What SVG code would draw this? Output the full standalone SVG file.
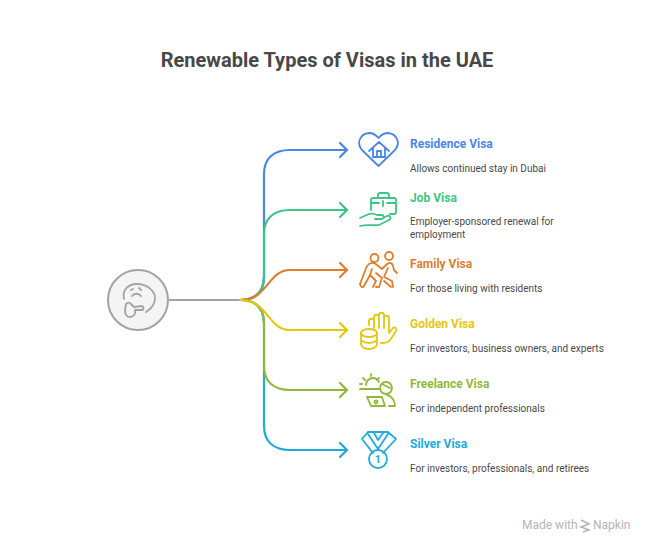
<svg xmlns="http://www.w3.org/2000/svg" width="654" height="553" viewBox="0 0 654 553">
<style>
text{font-family:Roboto,"Liberation Sans",sans-serif}
.t{font-size:12px;font-weight:700}
.d{font-size:10px;fill:#4a4a4a}
.c,.i,.a{fill:none;stroke-width:2.2px;stroke-linecap:round;stroke-linejoin:round}
.i{stroke-width:1.8px}
.blue{stroke:#4a86e8}.green{stroke:#3cc583}.orange{stroke:#de7e2f}.yellow{stroke:#e3c80e}.lime{stroke:#92b83a}.cyan{stroke:#1eabda}
</style>
<rect width="654" height="553" fill="#fff"/>
<text x="327" y="67" text-anchor="middle" fill="#484848" style="font-size:20px;font-weight:700">Renewable Types of Visas in the UAE</text>
<g id="connectors">
<path d="M169 300H240" fill="none" stroke="#a3a3a3" stroke-width="2"/>
<path class="c cyan" d="M240 300C256 300 264 308 264 324V426C264 442 274 450 290 450H347"/>
<path class="a cyan" d="M340 443L347 450L340 457"/>
<path class="c blue" d="M240 300C256 300 264 292 264 276V174C264 158 274 150 290 150H347"/>
<path class="a blue" d="M340 143L347 150L340 157"/>
<path class="c green" d="M240 300C256 300 264 292 264 276V234C264 218 274 210 290 210H347"/>
<path class="a green" d="M340 203L347 210L340 217"/>
<path class="c lime" d="M240 300C256 300 264 308 264 324V366C264 382 274 390 290 390H347"/>
<path class="a lime" d="M340 383L347 390L340 397"/>
<path class="c orange" d="M240 300C268 300 268 270 290 270H347"/>
<path class="a orange" d="M340 263L347 270L340 277"/>
<path class="c yellow" d="M240 300C268 300 268 330 290 330H347"/>
<path class="a yellow" d="M340 323L347 330L340 337"/>
</g>
<g id="root">
<circle cx="138" cy="300" r="30" fill="#f4f4f4" stroke="#a3a3a3" stroke-width="2"/>
<path class="i" stroke="#a3a3a3" d="M124 299C122 290 128 284 137 284C147 284 155 291 155 298C155 305 151 309 146 312"/>
<path class="i" stroke="#a3a3a3" d="M131 290L133 289M139 288L141 290M132 296C134 293 139 293 141 296"/>
<path class="i" stroke="#a3a3a3" d="M130 303L134 307L142 306C144 307 144 310 142 310L135 310C136 314 134 317 129 317C125 316 125 312 125 310L126 304C127 303 129 302 130 303Z"/>
</g>
<g id="residence">
<path class="i blue" d="M378.500 166L362 150C356 143 360 134 369 133C373 133 376 135 378.500 138C381 135 384 133 388 133C397 134 401 143 395 150Z"/>
<path class="i blue" d="M369 151L379 142L389 151M373 148V157H385V148M377 157V151H381V157"/>
<text class="t" x="410" y="148" fill="#4a86e8">Residence Visa</text>
<text class="d" x="410" y="172">Allows continued stay in Dubai</text>
</g>
<g id="job">
<path class="i green" d="M371 210V200C371 199 372 198 373 198H394C395 198 396 199 396 200V212C396 213 395 214 394 214H390M371 203H379M387 203H396M378 198V195C378 194 379 193 380 193H387C388 193 389 194 389 195V198M383 201V206"/>
<path class="i green" d="M360 218L369 214C372 213 375 214 377 215H382C384 215 384 218 382 219H375M383 218L387 216C390 215 392 218 389 220L379 225C376 226 368 224 360 226"/>
<text class="t" x="410" y="202" fill="#3cc583">Job Visa</text>
<text class="d" x="410" y="225">Employer-sponsored renewal for</text>
<text class="d" x="410" y="238">employment</text>
</g>
<g id="family">
<circle class="i orange" cx="374.500" cy="258" r="4"/><circle class="i orange" cx="389" cy="256" r="4"/>
<path class="i orange" d="M367 266L360 284C360 287 363 288 364 286L370 275L376 281L373 287M367 266C370 262 374 262 377 265L382 269L386 265C389 262 392 262 393 266L394 270L397 273"/>
<path class="i orange" d="M370 275L372 269M376 273L382 278L379 287M384 281L391 287M388 268L384 277L392 281L393 287M379 287H376"/>
<text class="t" x="410" y="268" fill="#de7e2f">Family Visa</text>
<text class="d" x="410" y="292">For those living with residents</text>
</g>
<g id="golden">
<ellipse class="i yellow" cx="369" cy="333" rx="8" ry="4"/>
<path class="i yellow" d="M361 333V344C361 347 365 349 369 349C373 349 377 347 377 344V333M361 339C361 341 365 343 369 343C373 343 377 341 377 339"/>
<path class="i yellow" d="M369 325V321C369 318 374 318 374 321V317C374 314 379 314 379 317V315C379 312 384 312 384 315V318C384 315 389 315 389 318V333L393 328C395 326 397 329 396 331L391 339C388 343 385 343 381 343M374 321V328M379 317V328M384 318V328"/>
<text class="t" x="410" y="328" fill="#e3c80e">Golden Visa</text>
<text class="d" x="410" y="352">For investors, business owners, and experts</text>
</g>
<g id="freelance">
<path class="i lime" d="M360 389H379M360 384H362M366 385C366 381 369 378 373 378C376 378 378 380 379 382M371 374V376M363 378L365 380M379 378L377 380"/>
<circle class="i lime" cx="386" cy="388" r="6"/>
<path class="i lime" d="M382 384L390 388"/>
<path class="i lime" d="M367 397H382L385 406H371ZM385 406H371"/>
<circle class="i lime" cx="376" cy="402" r="1.500"/>
<path class="i lime" d="M387 395C392 396 395 401 395 406H389"/>
<text class="t" x="410" y="388" fill="#92b83a">Freelance Visa</text>
<text class="d" x="410" y="412">For independent professionals</text>
</g>
<g id="silver">
<path class="i cyan" d="M368 432H388L396 439L383 453M368 432L362 439L373 453M368 434L378 449L388 434M374 433L378 440L383 433"/>
<circle class="i cyan" cx="378" cy="459" r="9"/>
<text x="378" y="463" text-anchor="middle" style="font-size:11px;font-weight:700" fill="#1eabda">1</text>
<text class="t" x="410" y="448" fill="#1eabda">Silver Visa</text>
<text class="d" x="410" y="472">For investors, professionals, and retirees</text>
</g>
<g id="watermark">
<text x="522" y="529" style="font-size:12px" fill="#b4b4b4">Made with</text>
<path d="M581 520L589 524L581 527L589 530L583 532" fill="none" stroke="#b4b4b4" stroke-width="1.500"/>
<text x="593" y="529" style="font-size:12px" fill="#b4b4b4">Napkin</text>
</g>
</svg>
